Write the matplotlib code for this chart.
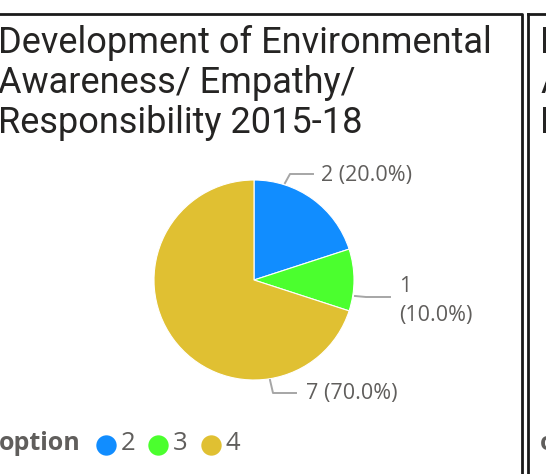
import matplotlib
matplotlib.use("Agg")
from matplotlib import pyplot as plt

### Data
options = ['2', '3', '4']
counts = [2, 1, 7]
colours = ['#118DFF', '#4BFF2E', '#E0C032']
title = 'Development of Environmental\nAwareness/ Empathy/\nResponsibility 2015-18'

W, H = 546, 474
fig = plt.figure(figsize=(W / 100, H / 100), dpi=100)

# background axes in pixel coords (frame, title, legend)
bg = fig.add_axes([0, 0, 1, 1])
bg.set_xlim(0, W)
bg.set_ylim(H, 0)
bg.axis('off')

# panel frames
bg.plot([-5, 522, 522], [14, 14, H + 5], color='#1a1a1a', lw=2)
bg.plot([528, 528], [H + 5, 14], color='#1a1a1a', lw=2)
bg.plot([528, W + 5], [14, 14], color='#1a1a1a', lw=2)

title_font = dict(family='Roboto', size=26, color='#252423')
for y, line in zip([53, 93, 133], title.split('\n')):
    bg.text(-2, y, line, va='baseline', ha='left', **title_font)
# neighbouring panel, cut at the edge
for y, ch in zip([53, 93, 133], 'DAR'):
    bg.text(540, y, ch, va='baseline', ha='left', **title_font)
bg.text(540, 444, 'o', va='center', ha='left', family='Open Sans', size=18,
        weight='bold', color='#605E5C')

### Pie
ax = fig.add_axes([154 / W, 1 - 380 / H, 200 / W, 200 / H])
wedges, _ = ax.pie(counts, colors=colours, startangle=90, counterclock=False,
                   radius=1, wedgeprops=dict(linewidth=0.8, edgecolor='white'))
ax.set_xlim(-1, 1)
ax.set_ylim(-1, 1)
ax.set_aspect('auto')
ax.axis('off')

total = sum(counts)
lab_font = dict(family='Open Sans', size=15.5, color='#605E5C')
line_kw = dict(color='#A6A6A6', lw=1.4, clip_on=False)

# leader lines + labels (x, y in pie units, radius = 1)
leaders = [
    ([0.31, 0.36, 0.59], [0.97, 1.06, 1.06]),
    ([1.01, 1.12, 1.36], [-0.16, -0.17, -0.17]),
    ([0.16, 0.19, 0.42], [-1.0, -1.13, -1.13]),
]
label_pos = [(0.67, 1.04), (1.45, -0.21), (0.52, -1.13)]
for i, c in enumerate(counts):
    xs, ys = leaders[i]
    ax.plot(xs, ys, **line_kw)
    pct = c / total * 100
    lx, ly = label_pos[i]
    if i == 1:
        txt = '%d\n(%.1f%%)' % (c, pct)
    else:
        txt = '%d (%.1f%%)' % (c, pct)
    ax.text(lx, ly, txt, ha='left', va='center', linespacing=1.45, clip_on=False, **lab_font)

### Legend
bg.text(-1, 444, 'option', ha='left', va='center', family='Open Sans', size=18,
        weight='bold', color='#605E5C')
leg_x = [106, 158, 211]
for x, o, col in zip(leg_x, options, colours):
    bg.scatter([x], [445], s=215, color=col, linewidths=0)
    bg.text(x + 15, 444, o, ha='left', va='center', family='Open Sans', size=18.5,
            color='#605E5C')

fig.savefig('out.png', dpi=100)
